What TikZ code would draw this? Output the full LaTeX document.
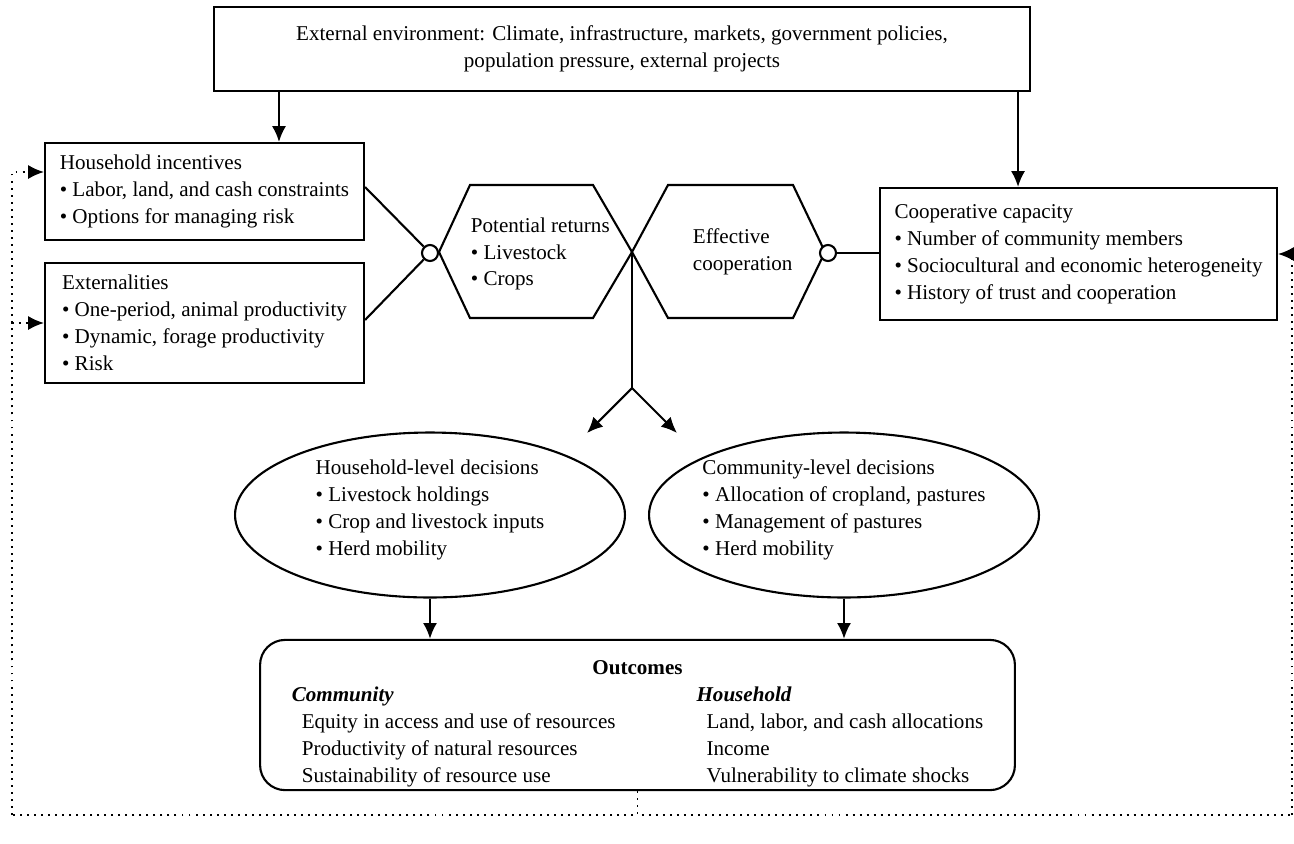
\documentclass[tikz,border=0pt]{standalone}
\usepackage{fontspec}
\setmainfont{Liberation Serif}
\usetikzlibrary{arrows.meta,shapes.geometric}

\begin{document}
\begin{tikzpicture}[x=0.02cm,y=-0.02cm,>={Latex[length=9pt,width=8pt]},line width=1.2pt,
  every node/.style={font=\fontsize{12}{15.3}\selectfont},
  box/.style={draw,rectangle,inner sep=0pt,align=left},
  dec/.style={draw,ellipse,minimum width=7.8cm,minimum height=3.3cm,inner sep=0pt},
  jdot/.style={draw,circle,fill=white,minimum size=0.32cm,inner sep=0pt},
  fb/.style={line width=1.1pt,dash pattern=on 1.1pt off 2.9pt}]
\useasboundingbox (0,0) rectangle (1294,843);
\node[box,align=center,minimum width=16.32cm,minimum height=1.68cm] (env) at (622,49) {External environment: Climate, infrastructure, markets, government policies,\\population pressure, external projects};
\node[box,minimum width=6.38cm,minimum height=1.94cm] (hhinc) at (204.5,191.5) {Household incentives\\\textbullet{} Labor, land, and cash constraints\\\textbullet{} Options for managing risk};
\node[box,minimum width=6.38cm,minimum height=2.4cm] (extn) at (204.5,323) {Externalities\\\textbullet{} One-period, animal productivity\\\textbullet{} Dynamic, forage productivity\\\textbullet{} Risk};
\node[box,minimum width=7.94cm,minimum height=2.64cm] (coop) at (1078.5,254) {Cooperative capacity\\\textbullet{} Number of community members\\\textbullet{} Sociocultural and economic heterogeneity\\\textbullet{} History of trust and cooperation};
\draw[->] ([xshift=1.49cm]hhinc.north |- env.south) -- ([xshift=1.49cm]hhinc.north);
\draw[->] ([xshift=-1.21cm]coop.north |- env.south) -- ([xshift=-1.21cm]coop.north);
\coordinate (mid) at (632,252);
\draw (439,252) -- (470,185) -- (593,185) -- (mid) -- (593,318) -- (470,318) -- cycle;
\draw (mid) -- (668,185) -- (793,185) -- (825,252) -- (793,318) -- (668,318) -- cycle;
\node[align=left,anchor=west] (ret) at (464,254) {Potential returns\\\textbullet{} Livestock\\\textbullet{} Crops};
\node[align=left,anchor=west] (eff) at (686,252) {Effective\\cooperation};
\node[jdot] (jret) at (430,253) {};
\node[jdot] (jcoop) at (828,253) {};
\draw ([yshift=0.09cm]hhinc.east) -- (jret);
\draw ([yshift=0.06cm]extn.east) -- (jret);
\draw (jcoop) -- (jcoop -| coop.west);
\coordinate (fork) at (632,388);
\coordinate (tl) at (587,433);
\coordinate (tr) at (677,433);
\draw (mid) -- (fork);
\draw[->] (fork) -- (tl);
\draw[->] (fork) -- (tr);
\node[dec] (hhdec) at (430,515) {};
\node[align=left] (hhdect) at (430,510) {Household-level decisions\\\textbullet{} Livestock holdings\\\textbullet{} Crop and livestock inputs\\\textbullet{} Herd mobility};
\node[dec] (cmdec) at (844,515) {};
\node[align=left] (cmdect) at (844,510) {Community-level decisions\\\textbullet{} Allocation of cropland, pastures\\\textbullet{} Management of pastures\\\textbullet{} Herd mobility};
\node[draw,rounded corners=0.5cm,minimum width=15.1cm,minimum height=3cm,inner sep=0pt] (outc) at (637.5,715) {\begin{tabular}{@{}l@{\hspace{1.62cm}}l@{}}\noalign{\vskip 9pt}
\multicolumn{2}{c}{\textbf{Outcomes}}\\
\textbf{\textit{Community}} & \textbf{\textit{Household}}\\
\hspace{0.2cm}Equity in access and use of resources & \hspace{0.2cm}Land, labor, and cash allocations\\
\hspace{0.2cm}Productivity of natural resources & \hspace{0.2cm}Income\\
\hspace{0.2cm}Sustainability of resource use & \hspace{0.2cm}Vulnerability to climate shocks
\end{tabular}};
\draw[->] (hhdec.south) -- (hhdec.south |- outc.north);
\draw[->] (cmdec.south) -- (cmdec.south |- outc.north);
\coordinate (fbl) at (12,815);
\coordinate (fbr) at (1292,815);
\draw[fb] (outc.south) |- (fbl);
\draw[fb] (outc.south) |- (fbr);
\draw[fb,->] (fbl) |- ([yshift=0.39cm]hhinc.west);
\draw[fb,->] (fbl) |- (extn.west);
\draw[fb,->] (fbr) |- (coop.east);
\end{tikzpicture}
\end{document}
